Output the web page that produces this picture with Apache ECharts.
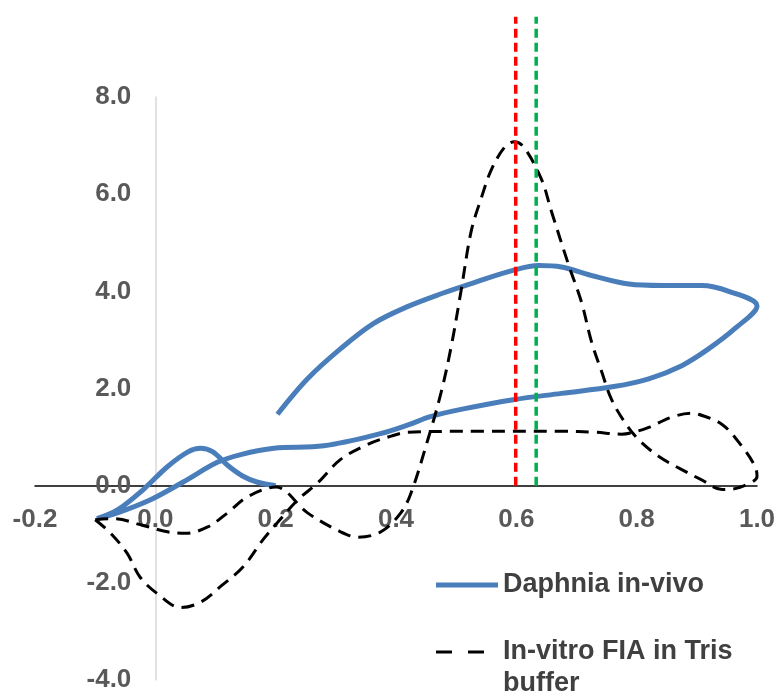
<!DOCTYPE html>
<html>
<head>
<meta charset="utf-8">
<script src="https://cdn.jsdelivr.net/npm/echarts@6/dist/echarts.min.js"></script>
<style>
html,body{margin:0;padding:0;background:#fff}
#main{width:780px;height:694px}
</style>
</head>
<body>
<div id="main"></div>
<script>
// tick labels
var xTicks = [-0.2, 0.0, 0.2, 0.4, 0.6, 0.8, 1.0];
var yTicks = [-4.0, -2.0, 0.0, 2.0, 4.0, 6.0, 8.0];

// Daphnia in-vivo: potential (x) and current (y), scan order
var daphniaE = [0.203, 0.253, 0.308, 0.363, 0.42, 0.475, 0.53, 0.597, 0.637, 0.675, 0.73, 0.787, 0.842, 0.908, 0.953, 1.0,
  0.963, 0.92, 0.875, 0.82, 0.762, 0.675, 0.595, 0.512, 0.457, 0.42, 0.374, 0.28, 0.197, 0.142, 0.103, 0.047, -0.008, -0.063, -0.097,
  -0.063, -0.02, 0.02, 0.055, 0.075, 0.095, 0.12, 0.145, 0.17, 0.2];
var daphniaI = [1.47, 2.2, 2.82, 3.34, 3.69, 3.95, 4.18, 4.44, 4.53, 4.5, 4.31, 4.15, 4.12, 4.12, 4.0, 3.7,
  3.23, 2.82, 2.47, 2.2, 2.04, 1.9, 1.77, 1.58, 1.42, 1.25, 1.07, 0.82, 0.77, 0.64, 0.48, 0.08, -0.29, -0.56, -0.68,
  -0.5, -0.08, 0.39, 0.7, 0.77, 0.7, 0.42, 0.2, 0.07, 0.0];

// In-vitro FIA in Tris buffer
var trisE = [-0.1, -0.07, -0.02, 0.02, 0.05, 0.087, 0.12, 0.153, 0.2, 0.253, 0.308, 0.337, 0.375, 0.408, 0.425, 0.453, 0.475, 0.492, 0.508,
  0.525, 0.542, 0.558, 0.58, 0.597, 0.613, 0.642, 0.658, 0.687, 0.708, 0.725, 0.742, 0.758, 0.78, 0.803, 0.837, 0.875, 0.908, 0.942, 0.97, 1.0,
  0.997, 0.975, 0.942, 0.903, 0.892, 0.858, 0.82, 0.795, 0.775, 0.73, 0.675, 0.542, 0.42, 0.392, 0.353, 0.308, 0.27, 0.237, 0.203, 0.179,
  0.146, 0.108, 0.075, 0.042, 0.003, -0.025, -0.047, -0.075, -0.1];
var trisI = [-0.7, -0.68, -0.82, -0.95, -0.98, -0.85, -0.56, -0.23, -0.03, -0.56, -0.95, -1.06, -0.95, -0.56, -0.15, 0.95, 1.92, 2.88, 4.0,
  5.24, 5.93, 6.49, 6.96, 7.08, 6.96, 6.3, 5.66, 4.54, 3.79, 2.96, 2.34, 1.78, 1.31, 0.95, 0.6, 0.33, 0.12, -0.08, -0.04, 0.19,
  0.39, 0.81, 1.26, 1.47, 1.49, 1.41, 1.2, 1.1, 1.06, 1.1, 1.12, 1.12, 1.1, 1.02, 0.85, 0.54, 0.06, -0.29, -0.76, -1.11,
  -1.67, -2.08, -2.4, -2.51, -2.22, -1.89, -1.39, -0.97, -0.7];

// peak markers (vertical dashed lines)
var redE = [0.599, 0.599];
var greenE = [0.633, 0.633];
var markerI = [0, 9.65];

function zip(xs, ys) {
  return xs.map(function (x, i) { return [x, ys[i]]; });
}
function fmt(v) {
  if (Math.abs(v) < 1e-9) v = 0;
  return v.toFixed(1);
}

var W = 780, H = 694;
var gLeft = 35, gRight = 23, gTop = 97, gBottom = 14;
var xMin = xTicks[0], xMax = xTicks[xTicks.length - 1];
var yMin = yTicks[0], yMax = yTicks[yTicks.length - 1];
// shift the axes onto the zero lines
var pxPerX = (W - gLeft - gRight) / (xMax - xMin);
var pxPerY = (H - gTop - gBottom) / (yMax - yMin);
var yAxisOffset = -(0 - xMin) * pxPerX;
var xAxisOffset = -(0 - yMin) * pxPerY;

var labelFont = { fontFamily: 'Liberation Sans', fontWeight: 'bold', fontSize: 26, color: '#595959' };
var legendFont = { fontFamily: 'Liberation Sans', fontWeight: 'bold', fontSize: 27, color: '#404040', lineHeight: 32 };

var chart = echarts.init(document.getElementById('main'));
chart.setOption({
  animation: false,
  backgroundColor: '#fff',
  grid: { left: gLeft, right: gRight, top: gTop, bottom: gBottom, containLabel: false, outerBoundsMode: 'none' },
  xAxis: {
    type: 'value',
    min: xMin,
    max: xMax,
    interval: 0.2,
    offset: xAxisOffset,
    axisLine: { onZero: false, lineStyle: { color: '#000', width: 1.5 } },
    axisTick: { show: false },
    splitLine: { show: false },
    axisLabel: Object.assign({ margin: 21, formatter: fmt, hideOverlap: false }, labelFont)
  },
  yAxis: {
    type: 'value',
    min: yMin,
    max: yMax,
    interval: 2,
    offset: yAxisOffset,
    axisLine: { show: true, onZero: false, lineStyle: { color: '#d9d9d9', width: 1.5 } },
    axisTick: { show: false },
    splitLine: { show: false },
    axisLabel: Object.assign({ margin: 24, formatter: fmt, hideOverlap: false }, labelFont)
  },
  legend: [
    {
      data: ['Daphnia in-vivo'],
      left: 436, top: 569, padding: 0,
      itemWidth: 62, itemHeight: 5, itemGap: 0,
      icon: 'path://M0,0h62v5h-62z',
      textStyle: legendFont
    },
    {
      data: ['In-vitro FIA in Tris buffer'],
      left: 436, top: 604, padding: 0,
      itemWidth: 48, itemHeight: 3, itemGap: 0,
      icon: 'path://M0,0h16v3h-16zM32,0h16v3h-16z',
      formatter: function () { return '\nIn-vitro FIA in Tris\nbuffer'; },
      textStyle: Object.assign({}, legendFont, { padding: [0, 0, 0, 14] })
    }
  ],
  series: [
    {
      name: 'Daphnia in-vivo',
      type: 'line',
      data: zip(daphniaE, daphniaI),
      smooth: 0.35,
      showSymbol: false,
      symbol: 'none',
      lineStyle: { color: '#4a7ebb', width: 5 },
      itemStyle: { color: '#4a7ebb' },
      z: 3
    },
    {
      name: 'In-vitro FIA in Tris buffer',
      type: 'line',
      data: zip(trisE, trisI),
      smooth: 0.35,
      showSymbol: false,
      symbol: 'none',
      lineStyle: { color: '#000', width: 3, type: [13, 8] },
      itemStyle: { color: '#000' },
      z: 4
    },
    {
      name: 'red',
      type: 'line',
      data: zip(redE, markerI),
      clip: false,
      symbol: 'none',
      lineStyle: { color: '#ff0000', width: 3.5, type: [9, 5] },
      z: 5
    },
    {
      name: 'green',
      type: 'line',
      data: zip(greenE, markerI),
      clip: false,
      symbol: 'none',
      lineStyle: { color: '#00b050', width: 3.5, type: [9, 5] },
      z: 5
    }
  ]
});
</script>
</body>
</html>
